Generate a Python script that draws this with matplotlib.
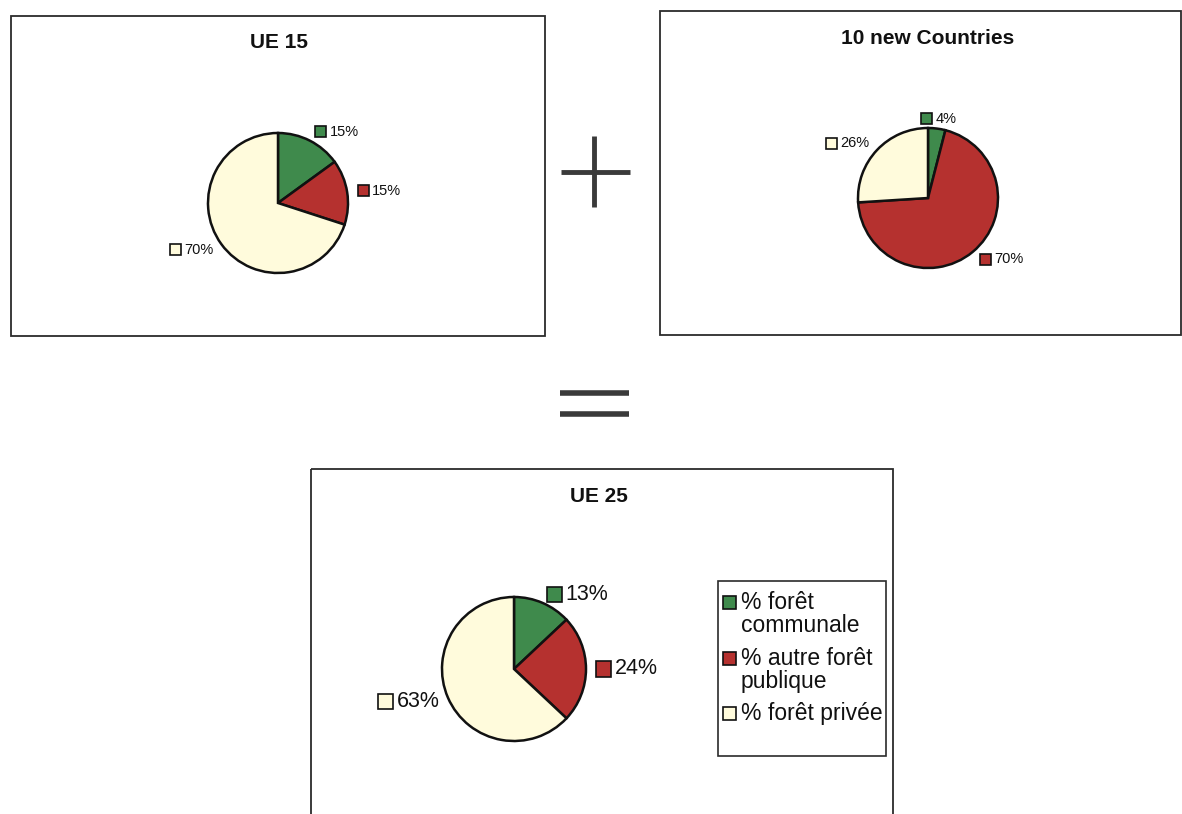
import matplotlib
matplotlib.use("Agg")
import matplotlib.pyplot as plt
from matplotlib.patches import Rectangle
from matplotlib.offsetbox import DrawingArea, TextArea, HPacker, AnnotationBbox
import numpy as np

plt.rcParams['font.family'] = ['Liberation Sans', 'DejaVu Sans']

# ---- data ----
categories = ["% forêt\ncommunale", "% autre forêt\npublique", "% forêt privée"]
titles = ["UE 15", "10 new Countries", "UE 25"]
ue15 = [15, 15, 70]
new10 = [4, 70, 26]
ue25 = [13, 24, 63]
colors = ["#3f8a4c", "#b5312f", "#fffbdc"]

W, H = 1182, 814
fig = plt.figure(figsize=(W / 100, H / 100), dpi=100)
bg = fig.add_axes([0, 0, 1, 1])
bg.set_xlim(0, W)
bg.set_ylim(H, 0)
bg.axis("off")

box_col = "#2b2b2b"
# chart frames
for (x0, y0, x1, y1) in [(11, 16, 545, 336), (660, 11, 1181, 335), (311, 469, 893, 830)]:
    bg.add_patch(Rectangle((x0, y0), x1 - x0, y1 - y0, fill=False, ec=box_col, lw=1.3))

# plus and equal signs
sign_col = "#3a3a3a"
bg.plot([561, 630], [172, 172], color=sign_col, lw=3.5, solid_capstyle="butt")
bg.plot([594, 594], [136, 207], color=sign_col, lw=3.5, solid_capstyle="butt")
bg.plot([560, 629], [393, 393], color=sign_col, lw=4, solid_capstyle="butt")
bg.plot([560, 629], [414, 414], color=sign_col, lw=4, solid_capstyle="butt")

# titles
title_pos = [(279, 42), (928, 39), (599, 497)]
for t, (x, y) in zip(titles, title_pos):
    bg.text(x, y, t, ha="center", va="center", fontsize=15, fontweight="bold",
            color="#111111")


def label_box(text, color, fs, msize):
    da = DrawingArea(msize, msize, 0, 0)
    da.add_artist(Rectangle((0.5, 0.5), msize - 1, msize - 1, fc=color, ec="#111111", lw=1.2))
    ta = TextArea(text, textprops=dict(fontsize=fs, color="#111111"))
    return HPacker(children=[da, ta], align="center", pad=0, sep=2)


def draw_pie(values, cx, cy, r, fs, msize, ldist):
    ax = fig.add_axes([(cx - r) / W, 1 - (cy + r) / H, 2 * r / W, 2 * r / H])
    wedges, _ = ax.pie(values, colors=colors, startangle=90, counterclock=False,
                       radius=1, wedgeprops=dict(edgecolor="#111111", linewidth=1.8))
    ax.set_xlim(-1, 1)
    ax.set_ylim(-1, 1)
    ax.set_aspect("auto")
    ax.axis("off")
    for w, v, c in zip(wedges, values, colors):
        ang = np.deg2rad((w.theta1 + w.theta2) / 2)
        x, y = ldist * np.cos(ang), ldist * np.sin(ang)
        if np.cos(ang) > 0.2:
            al = (0, 0.5)
        elif np.cos(ang) < -0.2:
            al = (1, 0.5)
        else:
            al = (0.5, 0.5)
        ab = AnnotationBbox(label_box(f"{v}%", c, fs, msize), (x, y), xycoords="data",
                            box_alignment=al, frameon=False, pad=0, annotation_clip=False)
        ax.add_artist(ab)


draw_pie(ue15, 278, 203, 70, 10.5, 9, 1.14)
draw_pie(new10, 928, 198, 70, 10.5, 9, 1.14)
draw_pie(ue25, 514, 669, 72, 15.5, 12, 1.13)

# legend (UE 25)
bg.add_patch(Rectangle((718, 581), 886 - 718, 756 - 581, fill=False, ec=box_col, lw=1.2))
leg_y = [602, 658, 713]
for lab, c, y in zip(categories, colors, leg_y):
    bg.add_patch(Rectangle((723, y - 6.5), 13, 13, fc=c, ec="#111111", lw=1.2))
    bg.text(741, y - 11, lab, ha="left", va="top", fontsize=16.5, color="#111111",
            linespacing=0.98)

fig.savefig("out.png", dpi=100, facecolor="white")
